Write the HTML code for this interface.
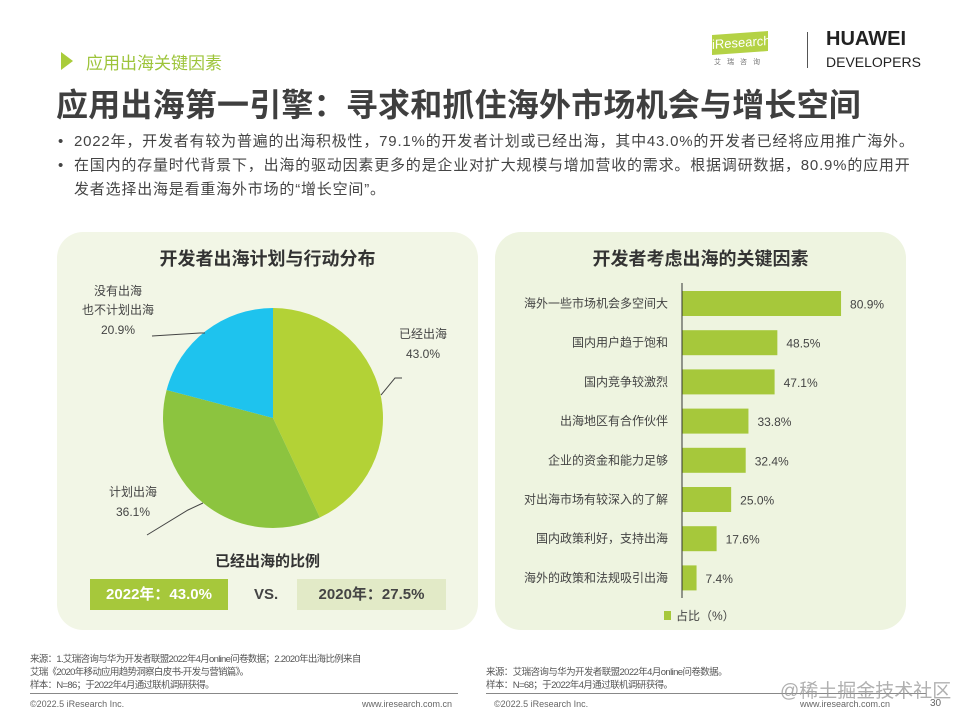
<!DOCTYPE html>
<html><head><meta charset="utf-8">
<style>
body{margin:0;width:960px;height:720px;background:#fff;position:relative;overflow:hidden;font-family:"Liberation Sans","Noto Sans CJK SC",sans-serif;color:#404040}
.abs{position:absolute}
</style></head><body>
<div class="abs" style="left:61px;top:52px;width:0;height:0;border-top:9px solid transparent;border-bottom:9px solid transparent;border-left:12px solid #a9cc3a"></div>
<div class="abs" style="left:86px;top:49px;font-size:17px;color:#9dc43a">应用出海关键因素</div>
<div class="abs" style="left:56px;top:80px;font-size:32px;font-weight:bold;color:#3f3f3f;letter-spacing:0.2px">应用出海第一引擎：寻求和抓住海外市场机会与增长空间</div>
<div class="abs" style="left:712px;top:33px;width:56px;height:20px;background:#b4d245;color:#fff;font-size:13px;line-height:20px;transform:skewY(-4deg)">iResearch</div>
<div class="abs" style="left:714px;top:57px;font-size:7px;color:#777;letter-spacing:6px">艾瑞咨询</div>
<div class="abs" style="left:807px;top:32px;width:1px;height:36px;background:#555"></div>
<div class="abs" style="left:826px;top:28px;font-size:20px;font-weight:bold;color:#222;line-height:22px">HUAWEI<br><span style="font-size:14px;font-weight:normal">DEVELOPERS</span></div>
<div class="abs" style="left:58px;top:130px;width:900px;font-size:15px;letter-spacing:0.8px;line-height:24px;color:#444;white-space:nowrap">
<div>•&nbsp;&nbsp;2022年，开发者有较为普遍的出海积极性，79.1%的开发者计划或已经出海，其中43.0%的开发者已经将应用推广海外。</div>
<div style="padding-left:16px;text-indent:-16px">•&nbsp;&nbsp;在国内的存量时代背景下，出海的驱动因素更多的是企业对扩大规模与增加营收的需求。根据调研数据，80.9%的应用开<br>发者选择出海是看重海外市场的“增长空间”。</div>
</div>
<div class="abs" style="left:57px;top:232px;width:421px;height:398px;background:#f2f6e6;border-radius:26px"></div>
<div class="abs" style="left:495px;top:232px;width:411px;height:398px;background:#eef4e0;border-radius:26px"></div>
<div class="abs" style="left:57px;top:245px;width:421px;text-align:center;font-size:18px;font-weight:bold;color:#333">开发者出海计划与行动分布</div>
<div class="abs" style="left:495px;top:245px;width:411px;text-align:center;font-size:18px;font-weight:bold;color:#333">开发者考虑出海的关键因素</div>
<svg class="abs" style="left:0;top:0" width="960" height="720" id="chart"></svg>
<div class="abs" style="left:57px;top:550px;width:421px;text-align:center;font-size:15px;font-weight:bold;color:#333">已经出海的比例</div>
<div class="abs" style="left:90px;top:579px;width:138px;height:31px;background:#a6c83b;color:#fff;font-size:15px;font-weight:bold;line-height:31px;text-align:center">2022年：43.0%</div>
<div class="abs" style="left:254px;top:586px;font-size:15px;font-weight:bold;color:#444">VS.</div>
<div class="abs" style="left:297px;top:579px;width:149px;height:31px;background:#e2eac7;color:#444;font-size:15px;font-weight:bold;line-height:31px;text-align:center">2020年：27.5%</div>
<div class="abs" style="left:30px;top:653px;width:240px;font-size:9.5px;line-height:13px;color:#555;letter-spacing:-0.7px;white-space:nowrap">来源：1.艾瑞咨询与华为开发者联盟2022年4月online问卷数据；2.2020年出海比例来自<br>艾瑞《2020年移动应用趋势洞察白皮书-开发与营销篇》。<br>样本：N=86；于2022年4月通过联机调研获得。</div>
<div class="abs" style="left:486px;top:666px;font-size:9.5px;line-height:13px;color:#555;letter-spacing:-0.6px">来源：艾瑞咨询与华为开发者联盟2022年4月online问卷数据。<br>样本：N=68；于2022年4月通过联机调研获得。</div>
<div class="abs" style="left:30px;top:693px;width:428px;height:1px;background:#888"></div>
<div class="abs" style="left:486px;top:693px;width:440px;height:1px;background:#888"></div>
<div class="abs" style="left:30px;top:699px;font-size:9px;color:#666">©2022.5 iResearch Inc.</div>
<div class="abs" style="left:362px;top:699px;font-size:9px;color:#666">www.iresearch.com.cn</div>
<div class="abs" style="left:494px;top:699px;font-size:9px;color:#666">©2022.5 iResearch Inc.</div>
<div class="abs" style="left:800px;top:699px;font-size:9px;color:#666">www.iresearch.com.cn</div>
<div class="abs" style="left:930px;top:698px;font-size:10px;color:#666">30</div>
<div class="abs" style="left:780px;top:676px;font-size:19px;color:rgba(150,150,150,0.75)">@稀土掘金技术社区</div>
<script>
const pieLabels=["已经出海","计划出海","没有出海也不计划出海"];
const pieValues=[43.0,36.1,20.9];
const pieColors=["#b3d236","#8cc43f","#1ec3ee"];
const barCats=["海外一些市场机会多空间大","国内用户趋于饱和","国内竞争较激烈","出海地区有合作伙伴","企业的资金和能力足够","对出海市场有较深入的了解","国内政策利好，支持出海","海外的政策和法规吸引出海"];
const barValues=[80.9,48.5,47.1,33.8,32.4,25.0,17.6,7.4];
const NS="http://www.w3.org/2000/svg";
const svg=document.getElementById('chart');
function mk(t,a,p){const e=document.createElementNS(NS,t);for(const k in a)e.setAttribute(k,a[k]);(p||svg).appendChild(e);return e;}
const cx=273,cy=418,r=110;
const tot=pieValues.reduce((a,b)=>a+b,0);
let ang=-Math.PI/2;
pieValues.forEach((v,i)=>{
  const a2=ang+v/tot*2*Math.PI;
  const large=(a2-ang)>Math.PI?1:0;
  const p=mk('path',{d:`M${cx},${cy}L${cx+r*Math.cos(ang)},${cy+r*Math.sin(ang)}A${r},${r} 0 ${large} 1 ${cx+r*Math.cos(a2)},${cy+r*Math.sin(a2)}Z`,fill:pieColors[i]});
  
  
  ang=a2;
});
const lines=[[381,395,395,378,402,378],[147,535,188,510,203,503],[152,336,200,333,205,333]];
lines.forEach((l,i)=>{const e=mk('polyline',{points:`${l[0]},${l[1]} ${l[2]},${l[3]} ${l[4]},${l[5]}`,fill:'none',stroke:'#444','stroke-width':1});

});
function txt(x,y,s,anchor,size,extra){const t=mk('text',Object.assign({x:x,y:y,'text-anchor':anchor||'start','font-size':size||12,fill:'#444','font-family':'"Liberation Sans","Noto Sans CJK SC",sans-serif'},extra||{}));t.textContent=s;return t;}
const pl=[[[423,338,"已经出海"],[423,358,pieValues[0].toFixed(1)+"%"]],[[133,496,"计划出海"],[133,516,pieValues[1].toFixed(1)+"%"]],[[118,295,"没有出海"],[118,314,"也不计划出海"],[118,334,pieValues[2].toFixed(1)+"%"]]];
pl.forEach((g,i)=>g.forEach(s=>{const t=txt(s[0],s[1],s[2],'middle',12);

}));
const ax=682,y0=303.5,step=39.2,bh=25,sc=1.966;
barValues.forEach((v,i)=>{
  const yc=y0+i*step;
  const b=mk('rect',{x:ax,y:yc-bh/2,width:v*sc,height:bh,fill:'#a6c83b'});
  
  
  const c=txt(ax-14,yc+4,barCats[i],'end',12);
  
  
  const vl=txt(ax+v*sc+9,yc+5,v.toFixed(1)+"%",'start',12);
  
  
});
const axl=mk('line',{x1:ax,y1:283,x2:ax,y2:598,stroke:'#333','stroke-width':1});


const lg=mk('rect',{x:664,y:611,width:7,height:9,fill:'#a6c83b'});


const lt=txt(676,620,"占比（%）",'start',12);


</script>
</body></html>
